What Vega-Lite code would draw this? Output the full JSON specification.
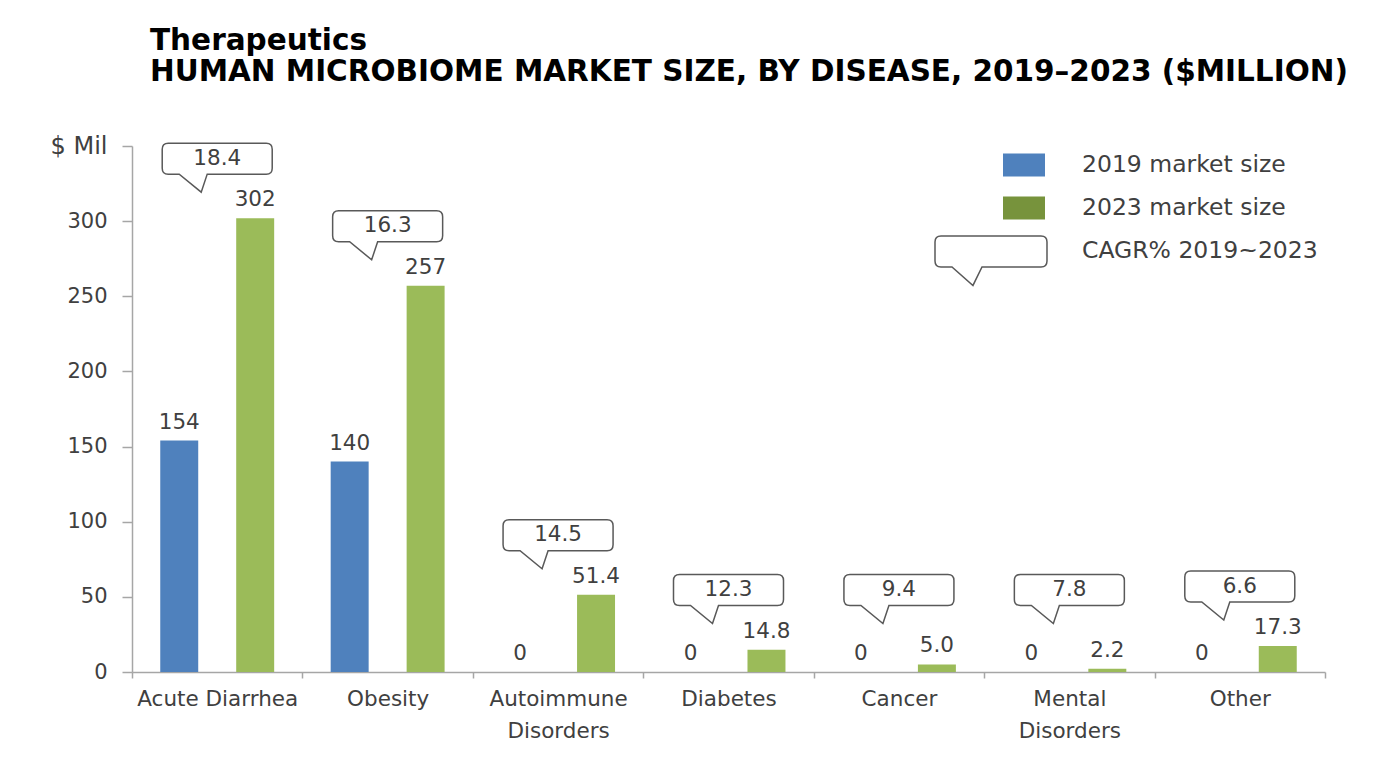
{
  "$schema": "https://vega.github.io/schema/vega-lite/v6.json",
  "width": 1193,
  "height": 526,
  "autosize": {"type": "none"},
  "padding": {"left": 132, "top": 146, "right": 61, "bottom": 94},
  "background": "white",
  "config": {"view": {"stroke": null}},
  "title": {
    "text": ["Therapeutics", "HUMAN MICROBIOME MARKET SIZE, BY DISEASE, 2019–2023  ($MILLION)"],
    "anchor": "start",
    "frame": "group",
    "dx": 18,
    "font": "DejaVu Sans",
    "fontSize": 29.5,
    "fontWeight": "bold",
    "color": "#000000",
    "lineHeight": 31,
    "offset": 47
  },
  "datasets": {
    "bars": [
      {"disease": "Acute Diarrhea", "series": "2019 market size", "value": 154, "label": "154"},
      {"disease": "Acute Diarrhea", "series": "2023 market size", "value": 302, "label": "302"},
      {"disease": "Obesity", "series": "2019 market size", "value": 140, "label": "140"},
      {"disease": "Obesity", "series": "2023 market size", "value": 257, "label": "257"},
      {"disease": "Autoimmune Disorders", "series": "2019 market size", "value": 0, "label": "0"},
      {"disease": "Autoimmune Disorders", "series": "2023 market size", "value": 51.4, "label": "51.4"},
      {"disease": "Diabetes", "series": "2019 market size", "value": 0, "label": "0"},
      {"disease": "Diabetes", "series": "2023 market size", "value": 14.8, "label": "14.8"},
      {"disease": "Cancer", "series": "2019 market size", "value": 0, "label": "0"},
      {"disease": "Cancer", "series": "2023 market size", "value": 5.0, "label": "5.0"},
      {"disease": "Mental Disorders", "series": "2019 market size", "value": 0, "label": "0"},
      {"disease": "Mental Disorders", "series": "2023 market size", "value": 2.2, "label": "2.2"},
      {"disease": "Other", "series": "2019 market size", "value": 0, "label": "0"},
      {"disease": "Other", "series": "2023 market size", "value": 17.3, "label": "17.3"}
    ],
    "cagr": [
      {"disease": "Acute Diarrhea", "cagr": "18.4", "v2023": 302},
      {"disease": "Obesity", "cagr": "16.3", "v2023": 257},
      {"disease": "Autoimmune Disorders", "cagr": "14.5", "v2023": 51.4},
      {"disease": "Diabetes", "cagr": "12.3", "v2023": 14.8},
      {"disease": "Cancer", "cagr": "9.4", "v2023": 5.0},
      {"disease": "Mental Disorders", "cagr": "7.8", "v2023": 2.2},
      {"disease": "Other", "cagr": "6.6", "v2023": 17.3}
    ]
  },
  "encoding": {
    "x": {
      "field": "disease",
      "type": "nominal",
      "sort": ["Acute Diarrhea", "Obesity", "Autoimmune Disorders", "Diabetes", "Cancer", "Mental Disorders", "Other"],
      "scale": {"paddingInner": 0, "paddingOuter": 0},
      "axis": {
        "title": null,
        "labelAngle": 0,
        "tickBand": "extent",
        "tickSize": 6,
        "tickColor": "#a6a6a6",
        "tickWidth": 1.5,
        "domainColor": "#a6a6a6",
        "domainWidth": 1.5,
        "labelPadding": 10,
        "labelFont": "DejaVu Sans",
        "labelFontSize": 21.5,
        "labelColor": "#404040",
        "labelLineHeight": 32,
        "labelOverlap": false,
        "labelLimit": 400,
        "labelExpr": "datum.label == 'Autoimmune Disorders' ? ['Autoimmune', 'Disorders'] : datum.label == 'Mental Disorders' ? ['Mental', 'Disorders'] : datum.label"
      }
    }
  },
  "layer": [
    {
      "data": {"name": "bars"},
      "encoding": {
        "xOffset": {"field": "series", "type": "nominal", "scale": {"paddingInner": 0.5, "paddingOuter": 0.372}},
        "y": {
          "field": "value",
          "type": "quantitative",
          "scale": {"domain": [0, 350], "nice": false},
          "axis": {
            "title": null,
            "grid": false,
            "values": [0, 50, 100, 150, 200, 250, 300, 350],
            "labelExpr": "datum.value == 350 ? '$ Mil' : datum.label",
            "domainColor": "#a6a6a6",
            "domainWidth": 1.5,
            "tickColor": "#a6a6a6",
            "tickWidth": 1.5,
            "tickSize": 10,
            "labelPadding": 15,
            "labelFont": "DejaVu Sans",
            "labelFontSize": {"condition": {"test": "datum.value == 350", "value": 24}, "value": 21},
            "labelColor": "#404040"
          }
        }
      },
      "layer": [
        {
          "mark": {"type": "bar"},
          "encoding": {
            "color": {
              "condition": {"test": "datum.series == '2023 market size'", "value": "#9bbb59"},
              "field": "series",
              "type": "nominal",
              "scale": {
                "domain": ["2019 market size", "2023 market size", "CAGR% 2019~2023"],
                "range": ["#4f81bd", "#77933c", "#ffffff"]
              },
              "legend": {
                "title": null,
                "orient": "none",
                "legendX": 870,
                "legendY": -3,
                "direction": "vertical",
                "padding": 0,
                "symbolSize": 1764,
                "symbolStrokeWidth": 1.5,
                "symbolOffset": 0,
                "labelOffset": 36,
                "rowPadding": 6,
                "labelFont": "DejaVu Sans",
                "labelFontSize": 23.5,
                "labelColor": "#404040",
                "labelLimit": 400,
                "encode": {
                  "symbols": {
                    "update": {
                      "shape": [
                        {"test": "datum.value == 'CAGR% 2019~2023'", "value": "M-3.952,-0.718L0.809,-0.718Q1.095,-0.718 1.095,-0.432L1.095,0.472Q1.095,0.758 0.809,0.758L-2.0,0.758L-2.43,1.64L-3.43,0.758L-3.952,0.758Q-4.238,0.758 -4.238,0.472L-4.238,-0.432Q-4.238,-0.718 -3.952,-0.718Z"},
                        {"value": "M-1,-0.548L1,-0.548L1,0.548L-1,0.548Z"}
                      ],
                      "stroke": [
                        {"test": "datum.value == 'CAGR% 2019~2023'", "value": "#595959"},
                        {"value": "transparent"}
                      ],
                      "strokeWidth": {"value": 1.5},
                      "opacity": {"value": 1}
                    }
                  }
                }
              }
            }
          }
        },
        {
          "mark": {"type": "text", "baseline": "bottom", "dy": -7, "font": "DejaVu Sans", "fontSize": 21.5, "color": "#404040"},
          "encoding": {"text": {"field": "label", "type": "nominal"}}
        }
      ]
    },
    {
      "data": {"name": "cagr"},
      "encoding": {
        "y": {
          "field": "v2023",
          "type": "quantitative",
          "scale": {"domain": [15, 350], "range": [503.457, 0], "clamp": true, "zero": false, "nice": false},
          "axis": null
        }
      },
      "layer": [
        {
          "mark": {
            "type": "point",
            "shape": "M-4.9,-7.5L4.9,-7.5Q5.5,-7.5 5.5,-6.9L5.5,-5.0Q5.5,-4.4 4.9,-4.4L-1.0,-4.4L-1.6,-2.6L-3.8,-4.4L-4.9,-4.4Q-5.5,-4.4 -5.5,-5.0L-5.5,-6.9Q-5.5,-7.5 -4.9,-7.5Z",
            "size": 400,
            "filled": true,
            "fill": "#ffffff",
            "stroke": "#595959",
            "strokeWidth": 1.5,
            "opacity": 1
          }
        },
        {
          "mark": {"type": "text", "baseline": "middle", "dy": -59.5, "font": "DejaVu Sans", "fontSize": 21.5, "color": "#404040"},
          "encoding": {"text": {"field": "cagr", "type": "nominal"}}
        }
      ]
    }
  ],
  "resolve": {"scale": {"y": "independent"}}
}
